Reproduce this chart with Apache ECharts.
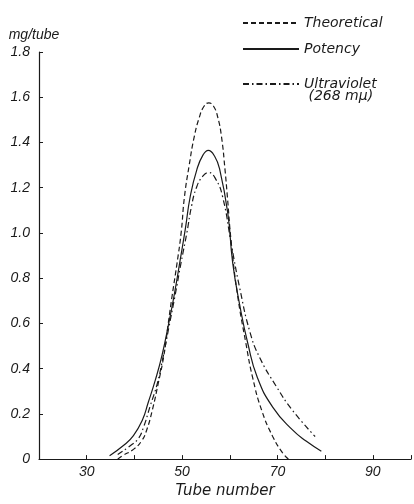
<!DOCTYPE html>
<html>
<head>
<meta charset="utf-8">
<script src="https://cdn.jsdelivr.net/npm/echarts@6/dist/echarts.min.js"></script>
<style>
  html, body { margin: 0; padding: 0; background: #fff; }
</style>
</head>
<body>
<div id="main" style="width: 414px; height: 504px;"></div>
<script>
// tube number, mg/tube pairs
const theoretical = [
  [36.5, 0], [37.5, 0.015], [39.8, 0.043], [41.5, 0.08], [42.6, 0.13], [43.8, 0.22],
  [45.0, 0.335], [46.2, 0.46], [47.1, 0.6], [47.9, 0.72], [48.9, 0.86], [49.8, 1.0],
  [50.5, 1.16], [51.5, 1.3], [52.5, 1.42], [53.6, 1.51], [54.6, 1.56], [55.6, 1.575],
  [56.6, 1.56], [57.5, 1.51], [58.3, 1.42], [59.0, 1.28], [59.5, 1.16], [60.3, 0.96],
  [61.6, 0.73], [63.4, 0.51], [64.8, 0.36], [66.7, 0.215], [69.0, 0.1], [71.0, 0.03],
  [72.3, 0]
];
const potency = [
  [34.8, 0.015], [37.7, 0.06], [39.8, 0.104], [41.7, 0.174], [42.9, 0.25], [44.4, 0.35],
  [45.8, 0.46], [47.2, 0.6], [48.3, 0.72], [49.6, 0.88], [50.7, 1.02], [51.7, 1.16],
  [53.1, 1.28], [54.4, 1.345], [55.5, 1.365], [56.8, 1.34], [57.9, 1.28], [59.6, 1.085],
  [60.6, 0.87], [62.1, 0.68], [63.8, 0.51], [65.8, 0.36], [69.0, 0.23], [73.1, 0.13],
  [76.0, 0.08], [79.2, 0.035]
];
const ultraviolet = [
  [36.5, 0.02], [39.2, 0.06], [40.8, 0.09], [41.9, 0.14], [43.3, 0.234], [44.8, 0.334],
  [46.0, 0.45], [47.3, 0.59], [48.5, 0.72], [49.8, 0.87], [51.0, 1.0], [52.0, 1.12],
  [53.0, 1.2], [54.3, 1.25], [55.6, 1.267], [57.0, 1.24], [58.5, 1.16], [60.4, 0.94],
  [62.1, 0.755], [64.2, 0.564], [66.25, 0.45], [69.8, 0.32], [73.1, 0.217], [77.9, 0.1]
];
const seriesNames = ['Theoretical', 'Potency', 'Ultraviolet'];
const xLabelTicks = [30, 50, 70, 90];

const ink = '#1a1a1a';
const font = 'Liberation Sans';
const wideFont = 'DejaVu Sans';

var chart = echarts.init(document.getElementById('main'));

const lineSeries = (name, data, type) => ({
  name: name,
  type: 'line',
  data: data,
  smooth: 0.5,
  symbol: 'none',
  lineStyle: { color: ink, width: 1.2, type: type },
  itemStyle: { color: ink }
});

// legend shows only the line pattern, no marker
const legendBase = {
  orient: 'vertical',
  left: 237,
  itemWidth: 56,
  itemHeight: 14,
  itemStyle: { color: 'transparent', borderColor: 'transparent', borderWidth: 0 },
  textStyle: { fontFamily: wideFont, fontStyle: 'italic', fontSize: 14, color: ink, lineHeight: 12 }
};

var option = {
  backgroundColor: '#fff',
  animation: false,
  grid: { left: 39, right: 2, top: 52, bottom: 37 },
  legend: [
    Object.assign({}, legendBase, {
      data: [seriesNames[0], seriesNames[1]],
      top: 11,
      itemGap: 12
    }),
    Object.assign({}, legendBase, {
      data: [seriesNames[2]],
      top: 60,
      formatter: () => '\u00a0\nUltraviolet\n\u00a0(268 mμ)'
    })
  ],
  xAxis: {
    type: 'value',
    min: 20,
    max: 98,
    interval: 10,
    name: 'Tube number',
    nameLocation: 'middle',
    nameGap: 24,
    nameTextStyle: { fontFamily: wideFont, fontStyle: 'italic', fontSize: 15, color: ink },
    axisLine: { lineStyle: { color: ink, width: 1.2 } },
    axisTick: { inside: true, length: 4, lineStyle: { color: ink } },
    splitLine: { show: false },
    axisLabel: {
      margin: 6,
      fontFamily: font, fontStyle: 'italic', fontSize: 14, color: ink,
      formatter: v => xLabelTicks.includes(v) ? String(v) : ''
    }
  },
  yAxis: {
    type: 'value',
    min: 0,
    max: 1.8,
    interval: 0.2,
    name: 'mg/tube',
    nameLocation: 'end',
    nameGap: 10,
    nameTextStyle: { fontFamily: font, fontStyle: 'italic', fontSize: 14, color: ink, padding: [0, 10, 0, 0] },
    axisLine: { show: true, lineStyle: { color: ink, width: 1.2 } },
    axisTick: { show: true, inside: true, length: 4, lineStyle: { color: ink } },
    splitLine: { show: false },
    axisLabel: {
      margin: 9,
      fontFamily: font, fontStyle: 'italic', fontSize: 14, color: ink,
      formatter: v => v === 0 ? '0' : v.toFixed(1)
    }
  },
  series: [
    lineSeries(seriesNames[0], theoretical, [5, 3]),
    lineSeries(seriesNames[1], potency, 'solid'),
    lineSeries(seriesNames[2], ultraviolet, [6, 3, 1.5, 3])
  ]
};

chart.setOption(option);
</script>
</body>
</html>
